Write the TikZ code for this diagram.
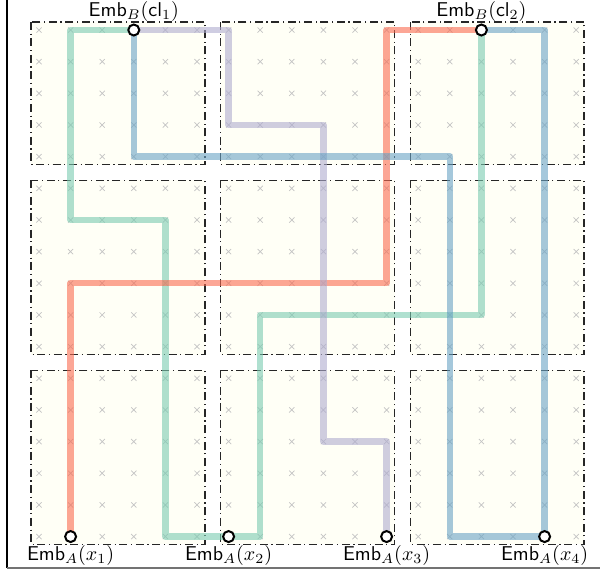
\documentclass[tikz,border=0pt]{standalone}
\usetikzlibrary{backgrounds}
\definecolor{wgreen}{HTML}{7ACBB1}
\definecolor{wred}{HTML}{FA6B50}
\definecolor{wblue}{HTML}{69A3C5}
\definecolor{wpurple}{HTML}{AFACCF}
\definecolor{boxfill}{HTML}{FFFFF6}
\definecolor{crossgray}{HTML}{C4C4C4}
\pgfdeclarelayer{wires}
\pgfsetlayers{background,wires,main}
\tikzset{
  blockbox/.style={fill=boxfill, draw=black!85, line width=0.7pt,
    dash pattern=on 4pt off 1.8pt on 0.6pt off 1.8pt},
  crossmark/.style={draw=crossgray, line width=0.35pt},
  wire/.style={line width=3.2pt, line join=round, draw opacity=0.6},
  term/.style={circle, draw=black, fill=white, line width=1pt, minimum size=5.5pt, inner sep=0pt},
  lbl/.style={inner sep=1pt, font=\normalsize},
}
\begin{document}
\begin{tikzpicture}[x=15.8pt, y=-15.83pt]
\useasboundingbox (-1.2342,-0.9476) rectangle (17.753,17.119);
\begin{pgfonlayer}{background}
% frame
\draw[black, line width=0.7pt] (-1.0127,-0.9476) -- (-1.0127,16.977);
\draw[black!55, line width=1pt] (-1.0127,16.977) -- (17.753,16.977);
% blocks
\foreach \a/\b in {0/5,6/11,12/17}
  \foreach \c/\d in {0/4,5/10,11/16}
    \draw[blockbox] (\a-0.25,\c-0.25) rectangle (\b+0.25,\d+0.25);
% crosses
\foreach \i in {0,...,17}
  \foreach \j in {0,...,16}
    \draw[crossmark] (\i,\j) +(-1.3pt,-1.3pt) -- +(1.3pt,1.3pt) +(-1.3pt,1.3pt) -- +(1.3pt,-1.3pt);
\end{pgfonlayer}
% terminals
\node[term] (cl1) at (3,0) {};
\node[term] (cl2) at (14,0) {};
\node[term] (x1) at (1,16) {};
\node[term] (x2) at (6,16) {};
\node[term] (x3) at (11,16) {};
\node[term] (x4) at (16,16) {};
\node[lbl, anchor=south] (lcl1) at (cl1.north) {$\mathsf{Emb}_B(\mathsf{cl}_1)$};
\node[lbl, anchor=south] (lcl2) at (cl2.north) {$\mathsf{Emb}_B(\mathsf{cl}_2)$};
\node[lbl, anchor=north] (lx1) at (x1.south) {$\mathsf{Emb}_A(x_1)$};
\node[lbl, anchor=north] (lx2) at (x2.south) {$\mathsf{Emb}_A(x_2)$};
\node[lbl, anchor=north] (lx3) at (x3.south) {$\mathsf{Emb}_A(x_3)$};
\node[lbl, anchor=north] (lx4) at (x4.south) {$\mathsf{Emb}_A(x_4)$};
% wires
\begin{pgfonlayer}{wires}
\draw[wire, wgreen] (cl1.center) -| (1,6) -| (4,16) -| (7,9) -| (cl2.center);
\draw[wire, wred] (x1.center) |- (11,8) |- (cl2.center);
\draw[wire, wpurple] (cl1.center) -| (6,3) -| (9,13) -| (x3.center);
\draw[wire, wblue] (cl1.center) |- (13,4) |- (x4.center);
\draw[wire, wblue] (cl2.center) -| (x4.center);
\end{pgfonlayer}
\end{tikzpicture}
\end{document}
